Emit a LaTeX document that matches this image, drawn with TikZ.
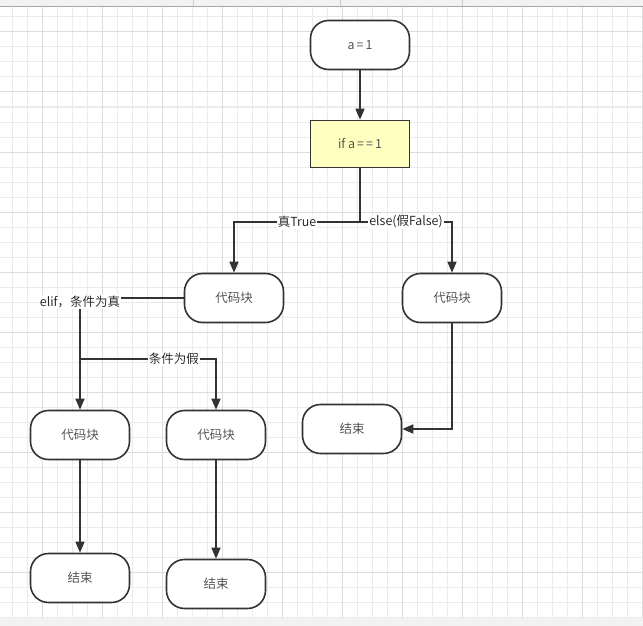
\documentclass[tikz,border=0pt]{standalone}
\usepackage{fontspec}
\setmainfont{Noto Sans CJK SC}[UprightFont={* DemiLight}]
\usetikzlibrary{arrows.meta}
\definecolor{linec}{HTML}{333333}
\definecolor{nodetext}{HTML}{444444}
\definecolor{labeltext}{HTML}{1A1A1A}
\definecolor{yel}{HTML}{FFFFC0}
\definecolor{gridminor}{HTML}{EBEBEB}
\definecolor{gridmajor}{HTML}{DCDCDC}
\definecolor{barfill}{HTML}{F2F2F2}
\tikzset{
  term/.style={draw=linec, line width=1.6pt, rounded corners=18pt, minimum width=99pt, minimum height=49pt, fill=white, text=nodetext, font=\fontsize{12.5}{14}\selectfont, inner sep=0pt},
  proc/.style={draw=linec, line width=1.6pt, minimum width=99pt, minimum height=47pt, fill=yel, text=nodetext, font=\fontsize{12.5}{14}\selectfont, inner sep=0pt},
  conn/.style={draw=linec, line width=1.6pt, -{Triangle[length=11pt,width=9pt]}},
  plain/.style={draw=linec, line width=1.6pt},
  lbl/.style={fill=white, text=labeltext, font=\fontsize{12.5}{14}\selectfont, inner sep=1pt},
  gminor/.style={draw=gridminor, line width=1pt},
  gmajor/.style={draw=gridmajor, line width=1pt}
}
\begin{document}
\begin{tikzpicture}[x=1pt,y=-1pt]
\useasboundingbox (0,0) rectangle (643,626);
\fill[white] (0,0) rectangle (643,626);
% grid
\foreach \x in {12,27,...,642} \draw[gminor] (\x,0) -- (\x,626);
\foreach \y in {2,17,...,617} \draw[gminor] (0,\y) -- (643,\y);
\foreach \x in {42,102,...,642} \draw[gmajor] (\x,0) -- (\x,626);
\foreach \y in {32,92,...,617} \draw[gmajor] (0,\y) -- (643,\y);
% top and bottom bars
\fill[barfill] (0,0) rectangle (643,6);
\draw[draw=gray!70, line width=1pt] (0,6.5) -- (643,6.5);
\foreach \x in {193,340,462} \draw[draw=gray!40, line width=0.8pt] (\x,0) -- (\x,6);
\fill[barfill] (0,618) rectangle (643,626);

% nodes
\node[term] (a1) at (360,45) {a\,=\,1};
\node[proc] (if) at (360,144) {if a\,=\,=\,1};
\node[term] (cbL) at (234,298) {代码块};
\node[term] (cbR) at (452,298) {代码块};
\node[term] (endR) at (352,429) {结束};
\node[term] (cb1) at (80,435) {代码块};
\node[term] (cb2) at (216,435) {代码块};
\node[term] (end1) at (80,578) {结束};
\node[term] (end2) at (216,584) {结束};

\coordinate (split) at (360,222);
\coordinate (b2) at (80,359);

% connectors
\draw[conn] (a1) -- (if);
\draw[plain] (if.south) -- (split);
\draw[conn] (split) -| node[lbl, pos=0.25] {真True} (cbL.north);
\draw[conn] (split) -| node[lbl, pos=0.25] {else(假False)} (cbR.north);
\draw[conn] (cbL.west) -| node[lbl, pos=0.5, yshift=-4pt] {elif，条件为真} (cb1.north);
\draw[conn] (b2) -| node[lbl, pos=0.345] {条件为假} (cb2.north);
\draw[conn] (cbR.south) |- (endR.east);
\draw[conn] (cb1) -- (end1);
\draw[conn] (cb2) -- (end2);
\end{tikzpicture}
\end{document}
